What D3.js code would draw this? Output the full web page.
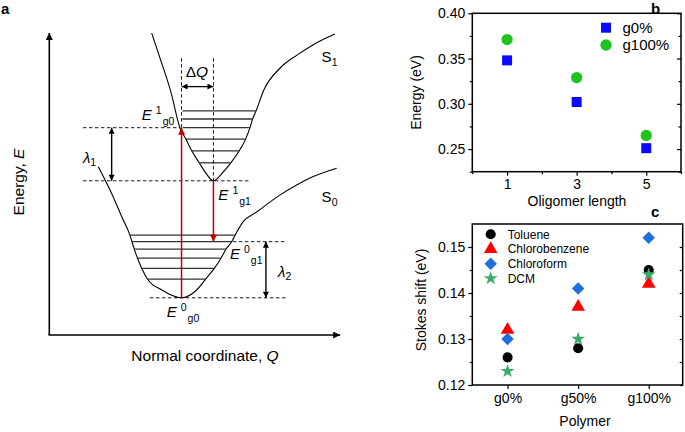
<!DOCTYPE html>
<html><head><meta charset="utf-8">
<script src="https://cdn.jsdelivr.net/npm/d3@7/dist/d3.min.js"></script>
<style>body{margin:0;background:#fff}svg{display:block}text{font-family:"Liberation Sans",Arial,sans-serif}</style>
</head><body><svg id="c" width="685" height="432"></svg>
<script>
// ---------- Panel a: schematic (Q, E in arbitrary units 0..100) ----------
const S1 = [[35.3,100.6],[38.2,92.2],[41.9,81.1],[45.1,68.9],[47.1,65.3],[49.1,61.4],[51.7,57.4],[53.7,54.4],[56.6,51.4],[60,54.4],[62.6,57.4],[65.5,61.4],[67.7,65.3],[69.2,69.1],[70.1,72],[71.3,74.7],[73.9,81.5],[79.6,89],[85.4,93.3],[90.9,96.7],[98.5,100.3]];
const S0 = [[16.9,56.1],[21.5,47.2],[25,39.4],[27.8,33.3],[29.3,28.6],[31.9,22.2],[33.9,18.6],[38.8,15],[45.6,12.4],[50.8,15],[53.9,18.6],[56.9,22.2],[59.2,25.6],[60.9,28.6],[62.9,31.1],[64.2,33.5],[66.8,37.7],[71.5,41],[79.6,46.7],[85.3,50],[91,52.8],[99.1,55.6]];
const S1levels = [[74.7,45.9,71.3],[72,45.9,70.2],[69.1,46.0,69.2],[65.3,47.1,67.7],[61.4,49.1,65.5],[57.4,51.7,62.6]];
const S0levels = [[33.3,27.8,64],[31.1,28.4,62.9],[28.6,29.3,60.9],[25.6,30.5,59.2],[22.2,31.9,56.9],[18.6,33.9,53.9]];
const dashedH = [[69.1,11.6,45.1],[51.4,11.6,69.2],[31.1,63.3,82],[12.4,34.7,82]];
const dashedV = [[45.6,92.3,69.1],[56.6,92.3,51.4]];
const blackArrowsV = [[21.5,69.1,51.4],[74.7,31.1,12.4]];
const dQArrow = [82.8,45.6,56.6];
const redArrows = [[45.6,12.4,69.1],[56.6,51.4,31.1]];
const eLabels = [["1","g0",31.9,71.7],["1","g1",58.3,45],["0","g1",62.3,25.2],["0","g0",40.5,5.9]];
const lamLabels = [["1",11.6,57.3],["2",78.9,19.4]];
const sLabels = [["1",93.9,91.1],["0",93.9,44.4]];

// ---------- Panel b ----------
const oligomer = [1,3,5];
const g0 = [0.348,0.302,0.251];
const g100 = [0.371,0.329,0.265];
const bYTicks = [0.25,0.30,0.35,0.40];
const bYMinor = [0.225,0.275,0.325,0.375];
const bXMinor = [0,2,4,6];

// ---------- Panel c ----------
const polymers = ["g0%","g50%","g100%"];
const toluene = [0.126,0.128,0.145];
const chlorobenzene = [0.132,0.137,0.142];
const chloroform = [0.130,0.141,0.152];
const dcm = [0.123,0.130,0.144];
const cYTicks = [0.12,0.13,0.14,0.15];
const cYMinor = [0.125,0.135,0.145];

const svg = d3.select("#c");
const defs = svg.append("defs");
function marker(id,color,w,h){
  defs.append("marker").attr("id",id).attr("viewBox","0 0 10 10").attr("refX",10).attr("refY",5)
   .attr("markerWidth",w).attr("markerHeight",h).attr("markerUnits","userSpaceOnUse").attr("orient","auto-start-reverse")
   .append("path").attr("d","M0,0L10,5L0,10z").attr("fill",color);
}
marker("ab","#000",7,6); marker("ar","#c00000",8,7); marker("ax","#000",8,7);

// Panel a scales
const qx = d3.scaleLinear().domain([0,100]).range([49.3,339.3]);
const ey = d3.scaleLinear().domain([0,100]).range([335,35]);
const ga = svg.append("g");
ga.append("text").attr("x",1).attr("y",14).attr("font-size",15).attr("font-weight","bold").text("a");
// axes
ga.append("line").attr("x1",qx(0)).attr("y1",ey(0)).attr("x2",qx(0)).attr("y2",ey(100.7)).attr("stroke","#000").attr("stroke-width",1.6).attr("marker-end","url(#ax)");
ga.append("line").attr("x1",qx(0)-0.8).attr("y1",ey(0)).attr("x2",qx(100.3)).attr("y2",ey(0)).attr("stroke","#000").attr("stroke-width",1.6).attr("marker-end","url(#ax)");
ga.append("text").attr("transform",`translate(24,${182}) rotate(-90)`).attr("text-anchor","middle").attr("font-size",15.5)
  .call(t=>{t.append("tspan").text("Energy, ");t.append("tspan").attr("font-style","italic").text("E");});
ga.append("text").attr("x",205).attr("y",361).attr("text-anchor","middle").attr("font-size",15.5)
  .call(t=>{t.append("tspan").text("Normal coordinate, ");t.append("tspan").attr("font-style","italic").text("Q");});
// curves
const line = d3.line().x(d=>qx(d[0])).y(d=>ey(d[1])).curve(d3.curveMonotoneX);
ga.append("path").attr("d",line(S1)).attr("fill","none").attr("stroke","#000").attr("stroke-width",1.1);
ga.append("path").attr("d",line(S0)).attr("fill","none").attr("stroke","#000").attr("stroke-width",1.1);
// levels
ga.selectAll(".lv").data(S1levels.concat(S0levels)).join("line")
  .attr("x1",d=>qx(d[1])).attr("x2",d=>qx(d[2])).attr("y1",d=>ey(d[0])).attr("y2",d=>ey(d[0]))
  .attr("stroke","#333").attr("stroke-width",1.3);
// dashed
ga.selectAll(".dh").data(dashedH).join("line")
  .attr("x1",d=>qx(d[1])).attr("x2",d=>qx(d[2])).attr("y1",d=>ey(d[0])).attr("y2",d=>ey(d[0]))
  .attr("stroke","#000").attr("stroke-width",0.9).attr("stroke-dasharray","3.5,2.5");
ga.selectAll(".dv").data(dashedV).join("line")
  .attr("x1",d=>qx(d[0])).attr("x2",d=>qx(d[0])).attr("y1",d=>ey(d[1])).attr("y2",d=>ey(d[2]))
  .attr("stroke","#000").attr("stroke-width",0.9).attr("stroke-dasharray","3.5,2.5");
// black double arrows
ga.selectAll(".ba").data(blackArrowsV).join("line")
  .attr("x1",d=>qx(d[0])).attr("x2",d=>qx(d[0])).attr("y1",d=>ey(d[1])).attr("y2",d=>ey(d[2]))
  .attr("stroke","#000").attr("stroke-width",1.4).attr("marker-start","url(#ab)").attr("marker-end","url(#ab)");
ga.append("line").attr("x1",qx(dQArrow[1])).attr("x2",qx(dQArrow[2])).attr("y1",ey(dQArrow[0])).attr("y2",ey(dQArrow[0]))
  .attr("stroke","#000").attr("stroke-width",1.4).attr("marker-start","url(#ab)").attr("marker-end","url(#ab)");
// red arrows
ga.selectAll(".ra").data(redArrows).join("line")
  .attr("x1",d=>qx(d[0])).attr("x2",d=>qx(d[0])).attr("y1",d=>ey(d[1])).attr("y2",d=>ey(d[2]))
  .attr("stroke","#c00000").attr("stroke-width",1.5).attr("marker-end","url(#ar)");
// labels
eLabels.forEach(([sup,sub,q,e])=>{
  const t=ga.append("text").attr("x",qx(q)).attr("y",ey(e)).attr("font-size",15);
  t.append("tspan").attr("font-style","italic").text("E");
  t.append("tspan").attr("font-size",10.5).attr("dx",4).attr("dy",-6).text(sup);
  t.append("tspan").attr("font-size",10.5).attr("dx",1).attr("dy",11).text(sub);
});
lamLabels.forEach(([sub,q,e])=>{
  const t=ga.append("text").attr("x",qx(q)).attr("y",ey(e)).attr("font-size",15);
  t.append("tspan").attr("font-style","italic").text("λ");
  t.append("tspan").attr("font-size",10.5).attr("dy",3).text(sub);
});
sLabels.forEach(([sub,q,e])=>{
  const t=ga.append("text").attr("x",qx(q)).attr("y",ey(e)).attr("font-size",15);
  t.append("tspan").text("S");
  t.append("tspan").attr("font-size",10.5).attr("dy",4).text(sub);
});
ga.append("text").attr("x",qx(50.9)).attr("y",ey(86.1)).attr("text-anchor","middle").attr("font-size",15.5)
  .call(t=>{t.append("tspan").text("Δ");t.append("tspan").attr("font-style","italic").text("Q");});

// ---------- Panel b draw ----------
const bx = d3.scaleLinear().domain([0,6]).range([472.3,681]);
const by = d3.scaleLinear().domain([0.225,0.40]).range([171.7,13.3]);
const gb = svg.append("g");
gb.append("text").attr("x",651).attr("y",14).attr("font-size",15).attr("font-weight","bold").text("b");
function frame(g,x0,x1,y0,y1){
  g.append("rect").attr("x",x0).attr("y",y0).attr("width",x1-x0).attr("height",y1-y0).attr("fill","none").attr("stroke","#000").attr("stroke-width",1.5);
}
function clean(g){g.select(".domain").remove();g.selectAll("line").attr("stroke-width",1.2);g.selectAll("text").attr("font-size",14).attr("font-family",null);}
frame(gb,472.3,681,13.3,171.7);
gb.append("g").attr("transform","translate(472.3,0)").call(d3.axisLeft(by).tickValues(bYTicks).tickFormat(d3.format(".2f")).tickSize(4).tickPadding(3)).call(clean);
gb.append("g").attr("transform","translate(472.3,0)").call(d3.axisLeft(by).tickValues(bYMinor).tickFormat("").tickSize(2.5)).call(clean);
gb.append("g").attr("transform","translate(681,0)").call(d3.axisLeft(by).tickValues(bYTicks).tickFormat("").tickSize(4)).call(clean);
gb.append("g").attr("transform","translate(681,0)").call(d3.axisLeft(by).tickValues(bYMinor).tickFormat("").tickSize(2.5)).call(clean);
gb.append("g").attr("transform","translate(0,171.7)").call(d3.axisBottom(bx).tickValues(oligomer).tickFormat(d3.format("d")).tickSize(4).tickPadding(3)).call(clean);
gb.append("g").attr("transform","translate(0,171.7)").call(d3.axisBottom(bx).tickValues(bXMinor).tickFormat("").tickSize(2.5)).call(clean);
gb.append("text").attr("transform","translate(421,92.5) rotate(-90)").attr("text-anchor","middle").attr("font-size",14).text("Energy (eV)");
gb.append("text").attr("x",577).attr("y",206).attr("text-anchor","middle").attr("font-size",14).text("Oligomer length");
const sq = d3.symbol().type(d3.symbolSquare).size(100);
const ci = d3.symbol().type(d3.symbolCircle).size(100);
gb.selectAll(".g0").data(oligomer).join("path").attr("d",sq).attr("transform",(d,i)=>`translate(${bx(d)},${by(g0[i])})`).attr("fill","#0a0aff");
gb.selectAll(".g100").data(oligomer).join("path").attr("d",ci).attr("transform",(d,i)=>`translate(${bx(d)},${by(g100[i])})`).attr("fill","#1ec41e");
const bLeg = [["g0%",sq,"#0a0aff"],["g100%",ci,"#1ec41e"]];
bLeg.forEach(([lab,sym,col],i)=>{
  const y=27.7+i*17.3;
  gb.append("path").attr("d",sym).attr("transform",`translate(606,${y})`).attr("fill",col);
  gb.append("text").attr("x",622.5).attr("y",y+5.3).attr("font-size",15).text(lab);
});

// ---------- Panel c draw ----------
const cx = d3.scalePoint().domain(polymers).range([472.3,684]).padding(0.5);
const cy = d3.scaleLinear().domain([0.12,0.155]).range([385,224]);
const gc = svg.append("g");
gc.append("text").attr("x",651).attr("y",217).attr("font-size",15).attr("font-weight","bold").text("c");
frame(gc,472.3,682.7,224,385);
gc.append("g").attr("transform","translate(472.3,0)").call(d3.axisLeft(cy).tickValues(cYTicks).tickFormat(d3.format(".2f")).tickSize(4).tickPadding(3)).call(clean);
gc.append("g").attr("transform","translate(472.3,0)").call(d3.axisLeft(cy).tickValues(cYMinor).tickFormat("").tickSize(2.5)).call(clean);
gc.append("g").attr("transform","translate(682.7,0)").call(d3.axisLeft(cy).tickValues(cYTicks.concat(cYMinor)).tickFormat("").tickSize(3)).call(clean);
gc.append("g").attr("transform","translate(0,385)").call(d3.axisBottom(cx).tickSize(4).tickPadding(4)).call(clean);
gc.append("text").attr("transform","translate(426,300) rotate(-90)").attr("text-anchor","middle").attr("font-size",14).text("Stokes shift (eV)");
gc.append("text").attr("x",585).attr("y",426).attr("text-anchor","middle").attr("font-size",14).text("Polymer");
const cSeries = [
  ["Toluene",toluene,d3.symbol().type(d3.symbolCircle).size(80),"#000",0],
  ["Chlorobenzene",chlorobenzene,d3.symbol().type(d3.symbolTriangle).size(80),"#ff0000",0],
  ["Chloroform",chloroform,d3.symbol().type(d3.symbolSquare).size(78),"#1f6fdf",45],
  ["DCM",dcm,d3.symbol().type(d3.symbolStar).size(60),"#3aaa6a",0]
];
cSeries.forEach(([name,vals,sym,col,rot],k)=>{
  gc.selectAll(".s"+k).data(polymers).join("path").attr("d",sym)
    .attr("transform",(d,i)=>`translate(${cx(d)},${cy(vals[i])}) rotate(${rot})`).attr("fill",col);
  const y=234.3+k*14.7;
  gc.append("path").attr("d",sym).attr("transform",`translate(490.7,${y}) rotate(${rot})`).attr("fill",col);
  gc.append("text").attr("x",507.7).attr("y",y+4.3).attr("font-size",12).text(name);
});
</script></body></html>
